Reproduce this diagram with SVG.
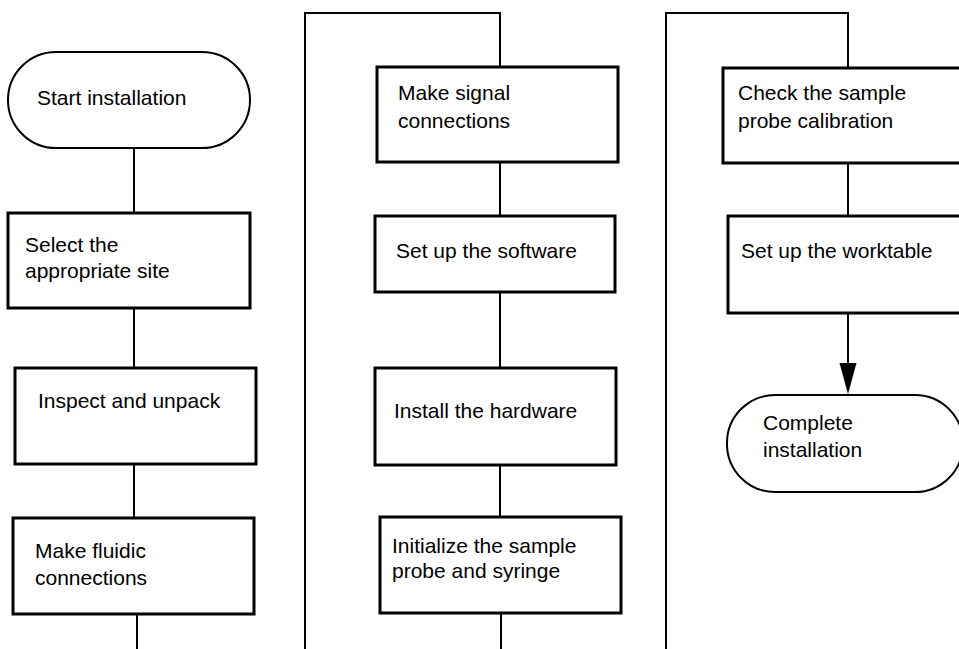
<svg xmlns="http://www.w3.org/2000/svg" width="959" height="649" viewBox="0 0 959 649">
<style>
.box{fill:#fff;stroke:#000;stroke-width:3}
.term{fill:#fff;stroke:#000;stroke-width:2}
.ln{fill:none;stroke:#000;stroke-width:2}
text{font-family:"Liberation Sans",Arial,sans-serif;font-size:21px;fill:#000}
</style>
<defs>
<marker id="arr" markerWidth="17" markerHeight="30" refX="8.5" refY="30" orient="auto-start-reverse" markerUnits="userSpaceOnUse" viewBox="0 0 17 30">
<path d="M0,0 L17,0 L8.5,30 Z" fill="#000"/>
</marker>
</defs>
<rect width="959" height="649" fill="#fff"/>
<g id="connectors">
<line class="ln" x1="134" y1="148" x2="134" y2="213"/>
<line class="ln" x1="134" y1="308" x2="134" y2="368"/>
<line class="ln" x1="134" y1="464" x2="134" y2="518"/>
<line class="ln" x1="137" y1="614" x2="137" y2="649"/>
<polyline class="ln" points="305,649 305,13 500,13 500,67"/>
<line class="ln" x1="500" y1="162" x2="500" y2="216"/>
<line class="ln" x1="500" y1="292" x2="500" y2="368"/>
<line class="ln" x1="500" y1="465" x2="500" y2="517"/>
<line class="ln" x1="501" y1="613" x2="501" y2="649"/>
<polyline class="ln" points="666,649 666,13 848,13 848,68"/>
<line class="ln" x1="848" y1="163" x2="848" y2="216"/>
<line class="ln" x1="848" y1="313" x2="848" y2="364"/>
<path d="M839.5,363 L856.5,363 L848,394 Z" fill="#000"/>
</g>
<g id="start">
<rect class="term" x="8" y="52" width="242" height="96" rx="48" ry="48"/>
<text x="37" y="105">Start installation</text>
</g>
<g id="select-site">
<rect class="box" x="8" y="213" width="242" height="95"/>
<text x="25" y="252">Select the</text>
<text x="25" y="278">appropriate site</text>
</g>
<g id="inspect">
<rect class="box" x="15" y="368" width="241" height="96"/>
<text x="38" y="408">Inspect and unpack</text>
</g>
<g id="fluidic">
<rect class="box" x="13" y="518" width="241" height="96"/>
<text x="35" y="558">Make fluidic</text>
<text x="35" y="585">connections</text>
</g>
<g id="signal">
<rect class="box" x="377" y="67" width="241" height="95"/>
<text x="398" y="100">Make signal</text>
<text x="398" y="128">connections</text>
</g>
<g id="software">
<rect class="box" x="375" y="216" width="240" height="76"/>
<text x="396" y="258">Set up the software</text>
</g>
<g id="hardware">
<rect class="box" x="375" y="368" width="241" height="97"/>
<text x="394" y="418">Install the hardware</text>
</g>
<g id="initialize">
<rect class="box" x="380" y="517" width="241" height="96"/>
<text x="392" y="553">Initialize the sample</text>
<text x="392" y="578">probe and syringe</text>
</g>
<g id="check-calibration">
<rect class="box" x="723" y="68" width="240" height="95"/>
<text x="738" y="100">Check the sample</text>
<text x="738" y="128">probe calibration</text>
</g>
<g id="worktable">
<rect class="box" x="728" y="216" width="240" height="97"/>
<text x="741" y="258">Set up the worktable</text>
</g>
<g id="complete">
<rect class="term" x="727" y="395" width="236" height="97" rx="48" ry="48"/>
<text x="763" y="430">Complete</text>
<text x="763" y="457">installation</text>
</g>
</svg>
